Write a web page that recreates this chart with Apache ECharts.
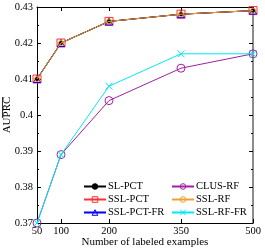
<!DOCTYPE html>
<html><head><meta charset="utf-8">
<script src="https://cdn.jsdelivr.net/npm/echarts@6/dist/echarts.min.js"></script>
<style>html,body{margin:0;padding:0;background:#fff}#c{width:265px;height:249px}</style>
</head><body><div id="c"></div>
<script>
var xValues = [50, 100, 200, 350, 500];
var xTicks = [50, 100, 200, 350, 500];
var slPct = [0.410, 0.420, 0.426, 0.428, 0.429];
var sslPct = [0.410, 0.420, 0.426, 0.428, 0.429];
var sslPctFr = [0.410, 0.420, 0.426, 0.428, 0.429];
var clusRf = [0.370, 0.389, 0.404, 0.413, 0.417];
var sslRf = [0.410, 0.420, 0.426, 0.428, 0.429];
var sslRfFr = [0.370, 0.389, 0.408, 0.417, 0.417];
var yMin = 0.37, yMax = 0.43, yStep = 0.01;

function pts(v){ return xValues.map(function(x,i){ return [x, v[i]]; }); }
var FONT = 'Liberation Serif';
var cross = 'path://M0,0L10,10M10,0L0,10';

function s(name, data, color, symbol, size, z, filled){
  return {
    name: name, type: 'line', data: pts(data), symbol: symbol, symbolSize: size, z: z,
    lineStyle: {color: color, width: 1}, showSymbol: true,
    itemStyle: {color: filled ? color : 'rgba(0,0,0,0)', borderColor: color, borderWidth: 1},
    emphasis: {disabled: true}, animation: false
  };
}
function li(name, color, filled){
  return {name: name, itemStyle: {color: filled ? color : 'rgba(0,0,0,0)', borderColor: color, borderWidth: 1}};
}

var chart = echarts.init(document.getElementById('c'));
var legendCommon = {
  orient: 'vertical', itemWidth: 22, itemHeight: 7, itemGap: 2,
  textStyle: {fontFamily: FONT, fontSize: 10.5, lineHeight: 11, color: '#000', padding: [0,0,0,-3]},
  selectedMode: false, padding: 0
};
chart.setOption({
  animation: false,
  grid: {left: 37, right: 12, top: 7, bottom: 26, containLabel: false, outerBoundsMode: 'none'},
  xAxis: [{
    type: 'value', min: 50, max: 500, position: 'bottom',
    name: 'Number of labeled examples', nameLocation: 'middle', nameGap: 14, nameMoveOverlap: false,
    nameTextStyle: {fontFamily: FONT, fontSize: 11, color: '#000'},
    axisLine: {show: true, lineStyle: {color: '#000', width: 1}},
    axisTick: {show: true, inside: true, length: 4, customValues: xTicks, lineStyle: {color: '#000'}},
    axisLabel: {customValues: xTicks, fontFamily: FONT, fontSize: 10.5, color: '#000', margin: 3},
    splitLine: {show: false}
  }, {
    type: 'value', min: 50, max: 500, position: 'top',
    axisLine: {show: true, lineStyle: {color: '#000', width: 1}},
    axisTick: {show: true, inside: true, length: 4, customValues: xTicks, lineStyle: {color: '#000'}},
    axisLabel: {show: false}, splitLine: {show: false}
  }],
  yAxis: [{
    type: 'value', min: yMin, max: yMax, interval: yStep, position: 'left',
    axisLine: {show: true, lineStyle: {color: '#000', width: 1}},
    axisTick: {show: true, inside: true, length: 4, lineStyle: {color: '#000'}},
    minorTick: {show: true, splitNumber: 2, length: 2, lineStyle: {color: '#000'}},
    axisLabel: {fontFamily: FONT, fontSize: 10.5, color: '#000', margin: 4,
      formatter: function(v){ return String(+v.toFixed(3)); }},
    splitLine: {show: false}, minorSplitLine: {show: false}
  }, {
    type: 'value', min: yMin, max: yMax, interval: yStep, position: 'right',
    axisLine: {show: true, lineStyle: {color: '#666', width: 1.5}},
    axisTick: {show: true, inside: true, length: 4, lineStyle: {color: '#000'}},
    minorTick: {show: true, splitNumber: 2, length: 2, lineStyle: {color: '#000'}},
    axisLabel: {show: false}, splitLine: {show: false}
  }],
  legend: [
    Object.assign({left: 83, top: 181, data: [li('SL-PCT', '#000000', true), li('SSL-PCT', '#ff3030'), li('SSL-PCT-FR', '#0000ff')]}, legendCommon),
    Object.assign({left: 171, top: 181, data: [li('CLUS-RF', '#a020a0'), li('SSL-RF', '#f0a030'), li('SSL-RF-FR', '#00e8f0')]}, legendCommon)
  ],
  graphic: [{
    type: 'text', x: 7, y: 115, rotation: Math.PI / 2,
    style: {text: 'AUPRC', font: '11px "Liberation Serif"', fill: '#000', align: 'center', verticalAlign: 'middle'}, z: 10
  }, {
    type: 'line', shape: {x1: 2.5, y1: 97, x2: 2.5, y2: 118},
    style: {stroke: '#000', lineWidth: 0.8}, z: 10
  }],
  series: [
    s('SL-PCT', slPct, '#000000', 'circle', 4, 6, true),
    s('SSL-PCT', sslPct, '#ff3030', 'rect', 8, 3, false),
    s('SSL-PCT-FR', sslPctFr, '#0000ff', 'triangle', 7, 4, false),
    s('CLUS-RF', clusRf, '#a020a0', 'circle', 8, 3, false),
    s('SSL-RF', sslRf, '#f0a030', 'circle', 5, 7, false),
    s('SSL-RF-FR', sslRfFr, '#00e8f0', cross, 7, 4, false)
  ]
});
</script></body></html>
